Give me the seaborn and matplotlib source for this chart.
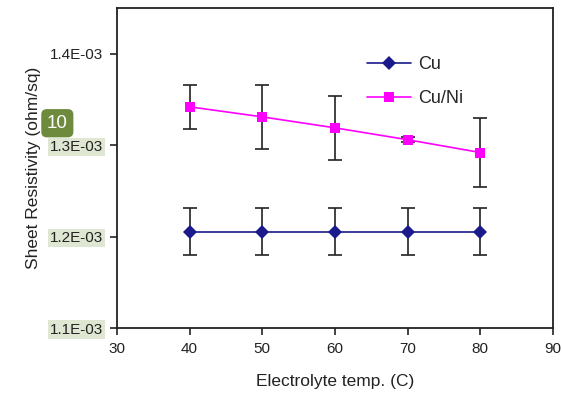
import matplotlib
matplotlib.use("Agg")
import matplotlib.pyplot as plt
import seaborn as sns
import pandas as pd
from matplotlib.ticker import FuncFormatter

temps = [40, 50, 60, 70, 80]
cu = [1.2055e-3, 1.2055e-3, 1.2055e-3, 1.2055e-3, 1.2055e-3]
cu_err = [0.026e-3, 0.026e-3, 0.026e-3, 0.026e-3, 0.026e-3]
cuni = [1.342e-3, 1.331e-3, 1.319e-3, 1.306e-3, 1.292e-3]
cuni_err = [0.024e-3, 0.035e-3, 0.035e-3, 0.003e-3, 0.038e-3]
y_ticks = [1.1e-3, 1.2e-3, 1.3e-3, 1.4e-3]

sns.set_style("ticks")
plt.rcParams['font.family'] = ['Liberation Sans', 'DejaVu Sans']

df = pd.DataFrame({
    "temp": temps * 2,
    "res": cu + cuni,
    "series": ["Cu"] * 5 + ["Cu/Ni"] * 5,
})

fig = plt.figure(figsize=(5.62, 4.04), dpi=100)
ax = fig.add_axes([0.208, 0.188, 0.776, 0.792])

ax.errorbar(temps, cu, yerr=cu_err, fmt="none", ecolor="#222222", elinewidth=1.2,
            capsize=5, capthick=1.2, zorder=2)
ax.errorbar(temps, cuni, yerr=cuni_err, fmt="none", ecolor="#222222", elinewidth=1.2,
            capsize=5, capthick=1.2, zorder=2)

sns.lineplot(data=df, x="temp", y="res", hue="series", style="series",
             palette={"Cu": "#1a1a8c", "Cu/Ni": "#ff00ff"},
             markers={"Cu": "D", "Cu/Ni": "s"}, dashes=False,
             markersize=7, markeredgewidth=0, linewidth=1.2, ax=ax, zorder=3)

ax.set_xlim(30, 90)
ax.set_ylim(1.1e-3, 1.45e-3)
ax.set_xticks([30, 40, 50, 60, 70, 80, 90])
ax.set_yticks(y_ticks)
ax.yaxis.set_major_formatter(FuncFormatter(lambda v, p: f"{v:.1E}"))
ax.tick_params(axis="both", labelsize=11, length=5, width=1.2, color="#222222",
               labelcolor="#222222", pad=5)
for sp in ax.spines.values():
    sp.set_color("#222222")
    sp.set_linewidth(1.3)

ax.set_xlabel("Electrolyte temp. (C)", fontsize=12.5, color="#222222", labelpad=13)
ax.set_ylabel("Sheet Resistivity (ohm/sq)", fontsize=12.5, color="#222222", labelpad=6)

fig.canvas.draw()
for lab in ax.get_yticklabels():
    if lab.get_text() != "1.4E-03":
        lab.set_bbox(dict(facecolor="#dfe7d2", edgecolor="none", pad=1.5))

fig.text(0.102, 0.695, "10", fontsize=13.5, color="white", ha="center", va="center",
         bbox=dict(boxstyle="round,pad=0.3", facecolor="#6e8b3d", edgecolor="none"))

leg = ax.legend(loc="upper left", bbox_to_anchor=(0.537, 0.90), frameon=False,
                fontsize=13, handlelength=2.4, labelspacing=0.95, handletextpad=0.4)

fig.savefig("out.png", dpi=100)
